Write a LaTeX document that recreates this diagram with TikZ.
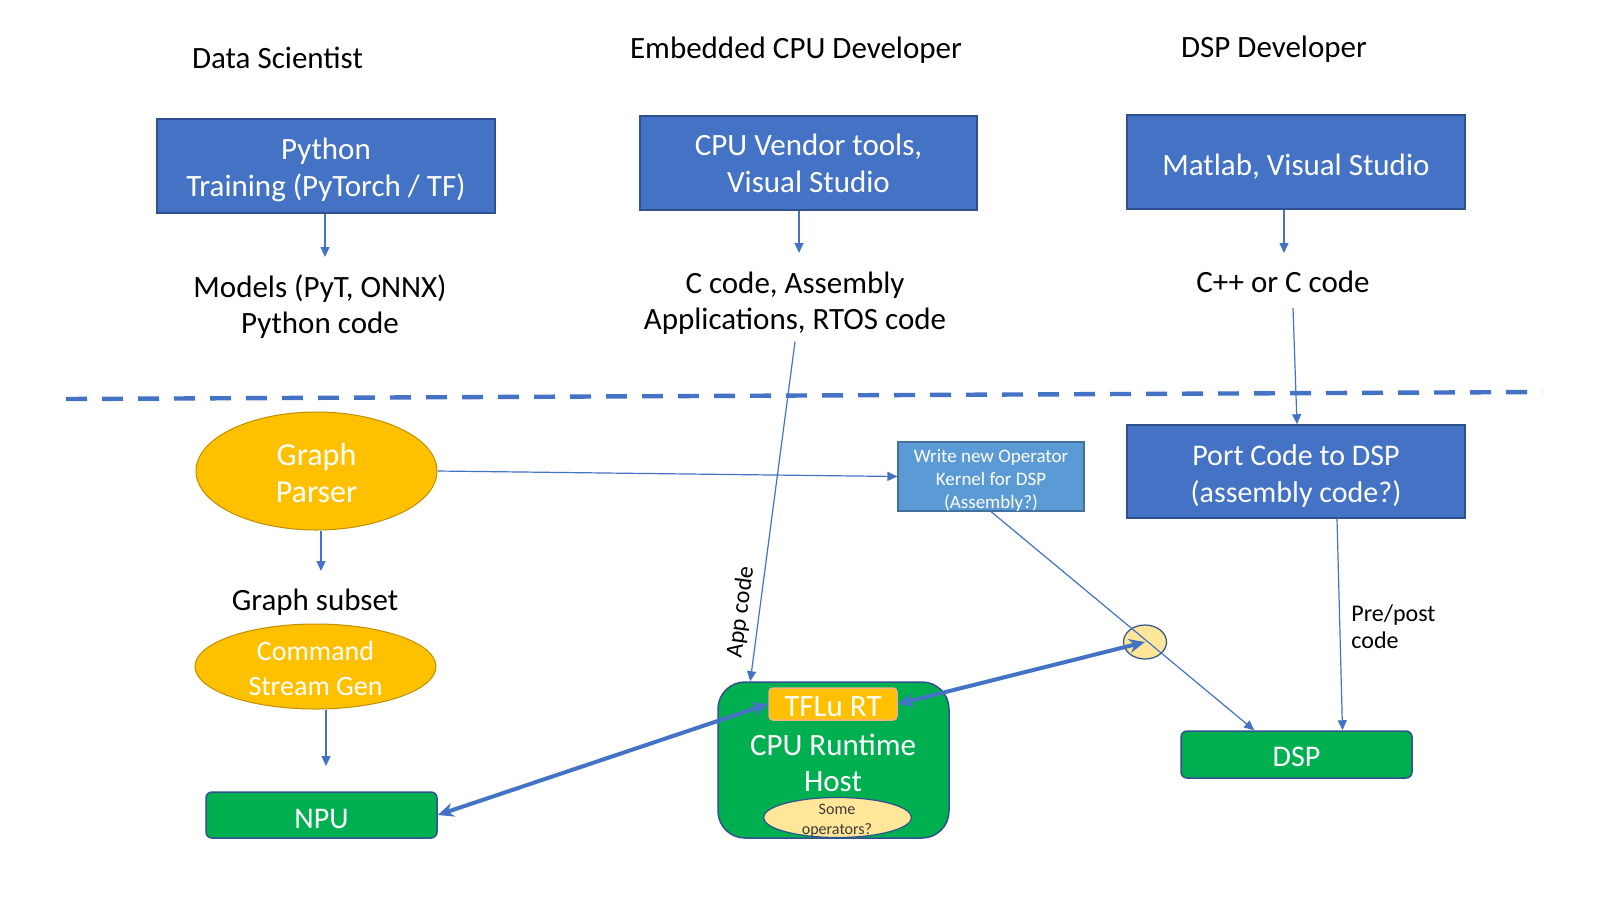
\documentclass[tikz,border=0pt]{standalone}
\usepackage{fontspec}
\setmainfont{Carlito}
\usetikzlibrary{shapes.geometric,arrows.meta}
\definecolor{boxblue}{HTML}{4472C4}
\definecolor{boxedge}{HTML}{2F528F}
\definecolor{lightblue}{HTML}{5B9BD5}
\definecolor{lightedge}{HTML}{41719C}
\definecolor{goldfill}{HTML}{FFC000}
\definecolor{goldedge}{HTML}{BF9000}
\definecolor{hwgreen}{HTML}{00B050}
\definecolor{paleyellow}{HTML}{FFE699}
\definecolor{tfluedge}{HTML}{F4B183}
\definecolor{opsgray}{HTML}{3A3A3A}
\newcommand{\myfs}[2]{\fontsize{#1}{#2}\selectfont}
\begin{document}
\begin{tikzpicture}[x=0.5pt,y=-0.5pt,
  txt/.style={inner sep=0pt, font=\myfs{15.5}{18}},
  wtxt/.style={inner sep=0pt, text=white, align=center, font=\myfs{15.5}{18.5}},
  bluebox/.style={rectangle, fill=boxblue, draw=boxedge, line width=0.75pt, text=white, align=center, font=\myfs{15.5}{18.5}, inner sep=0pt},
  writebox/.style={rectangle, fill=lightblue, draw=lightedge, line width=0.6pt, inner sep=0pt},
  goldell/.style={ellipse, fill=goldfill, draw=goldedge, line width=0.5pt, inner sep=0pt},
  greenbox/.style={rectangle, rounded corners=3pt, fill=hwgreen, draw=boxedge, line width=0.75pt, text=white, font=\myfs{15}{18}, inner sep=0pt},
  tflubox/.style={rectangle, rounded corners=2pt, fill=goldfill, draw=tfluedge, line width=0.75pt, text=white, font=\myfs{15.5}{18}, inner sep=0pt},
  paleell/.style={ellipse, fill=paleyellow, draw=boxedge, line width=0.6pt, inner sep=0pt},
  arr/.style={draw=boxblue, line width=0.6pt, -{Triangle[length=5pt,width=4.5pt]}},
  thickarr/.style={draw=boxblue, line width=2pt, {Stealth[length=8pt,width=7pt]}-{Stealth[length=8pt,width=7pt]}}
]
\fill[white] (0,0) rectangle (1600,906);
\useasboundingbox (0,0) rectangle (1600,906);

% headers
\node[txt, anchor=base] (ds) at (277.5,68) {Data Scientist};
\node[txt, anchor=base] (ecd) at (796,58.5) {Embedded CPU Developer};
\node[txt, anchor=base] (dspd) at (1274,57) {DSP Developer};

% top boxes
\node[bluebox, minimum width=169pt, minimum height=47pt] (py) at (326,166) {};
\node[wtxt] (pyt) at ([yshift=-2pt]py.center) {Python\\Training (PyTorch / TF)};
\node[bluebox, minimum width=168.5pt, minimum height=47pt] (cpu) at (808.5,163) {CPU Vendor tools,\\Visual Studio};
\node[bluebox, minimum width=169pt, minimum height=47pt, text height=15pt, text depth=2pt] (mat) at (1296,162) {Matlab, Visual Studio};

% outputs
\node[txt, align=center] (models) at (320,306.5) {Models (PyT, ONNX)\\Python code};
\node[txt, align=center] (ccode) at (795,303) {C code, Assembly\\Applications, RTOS code};
\node[txt, anchor=base] (cpp) at (1283,292.5) {C++ or C code};

\coordinate (pyend) at (325,257);
\coordinate (cpuend) at (799,253);
\coordinate (matend) at (1284,253);
\draw[arr] (py.south -| pyend) -- (pyend);
\draw[arr] (cpu.south -| cpuend) -- (cpuend);
\draw[arr] (mat.south -| matend) -- (matend);

% separator
\draw[boxblue, line width=2.2pt, dash pattern=on 10.5pt off 7.5pt] (66,399) -- (1542,392);

% lower left
\node[goldell, minimum width=120.5pt, minimum height=59pt] (gp) at (316.5,471) {};
\node[wtxt, font=\myfs{16}{18.5}] (gpt) at ([yshift=-1pt]gp.center) {Graph\\Parser};
\node[txt, anchor=base] (gs) at (315,610) {Graph subset};
\node[goldell, minimum width=120.5pt, minimum height=42.5pt] (csg) at (315.5,666.5) {};
\node[wtxt, font=\myfs{14}{17.5}] (csgt) at ([yshift=-1pt]csg.center) {Command\\Stream Gen};
\node[greenbox, minimum width=115.5pt, minimum height=23pt, text height=13.7pt, text depth=0pt] (npu) at (321.5,815) {NPU};

% lower middle / right
\node[writebox, minimum width=93pt, minimum height=34.5pt] (wr) at (991,476.5) {};
\node[wtxt, font=\myfs{9.5}{11.5}] (wrt) at ([yshift=-2pt]wr.center) {Write new Operator\\Kernel for DSP\\(Assembly?)};
\node[bluebox, minimum width=169pt, minimum height=46.5pt] (port) at (1296,471.5) {};
\node[wtxt, font=\myfs{15}{18.5}] (portt) at ([yshift=-2.25pt]port.center) {Port Code to DSP\\(assembly code?)};
\node[greenbox, minimum width=115.5pt, minimum height=23.5pt, text height=11.7pt, text depth=0pt] (dsp) at (1296.5,754.5) {DSP};

\node[greenbox, rounded corners=13.5pt, minimum width=115.5pt, minimum height=78pt] (host) at (833.5,760) {};
\node[txt, align=center, text=white] (hostt) at (833,762.5) {CPU Runtime\\Host};
\node[tflubox, minimum width=64pt, minimum height=16pt, text height=12pt, text depth=0pt] (tflu) at (833,704) {TFLu RT};
\node[paleell, minimum width=74pt, minimum height=20pt] (ops) at (837.5,817.5) {};
\node[txt, align=center, font=\myfs{8}{10}, text=opsgray] (opst) at (837,821) {Some\\operators?};

\node[paleell, minimum width=21.5pt, minimum height=17pt] (sm) at (1145,642) {};

\node[txt, align=left, anchor=west, font=\myfs{12}{13.5}] (pp) at (1351,627) {Pre/post\\code};
\node[txt, font=\myfs{12}{14}, rotate=82.5] (app) at (741,612) {App code};

% connectors
\coordinate (gsin) at (321,571);
\coordinate (npuin) at (326,766);
\draw[arr] (gp.south -| gsin) -- (gsin);
\draw[arr] (csg.south -| npuin) -- (npuin);
\draw[arr] (gp.east) -- (wr.west);
\draw[arr] ([yshift=-3.5pt]ccode.south) -- ([xshift=16.5pt]host.north west);
\draw[arr] ([xshift=5pt,yshift=-7.5pt]cpp.south) -- ([xshift=0.5pt]port.north);
\draw[arr] (wr.south) -- ([xshift=37pt]dsp.north west);
\draw[arr] ([xshift=20.5pt]port.south) -- ([xshift=23pt]dsp.north);
\draw[thickarr] (tflu.west) -- (npu.east);
\draw[thickarr] (tflu.east) -- (sm.center);
\end{tikzpicture}
\end{document}
